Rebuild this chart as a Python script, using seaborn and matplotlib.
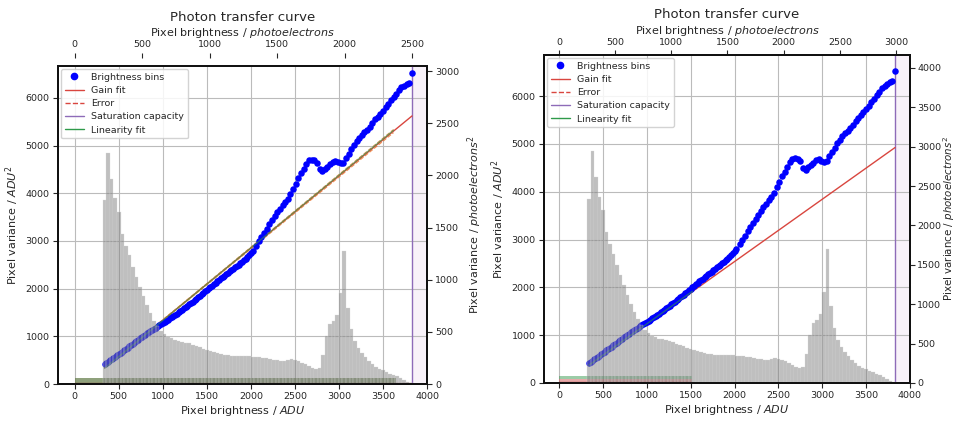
import numpy as np
import pandas as pd
import matplotlib
matplotlib.use("Agg")
import matplotlib.pyplot as plt
import seaborn as sns
from matplotlib.lines import Line2D

# ---------------- data ----------------
bin_adu = [340, 360, 380, 400, 420, 440, 460, 480, 500, 520, 540, 560, 580, 600,
           620, 640, 660, 680, 700, 720, 740, 760, 780, 800, 820, 840, 860, 880,
           900, 920, 940, 960, 980, 1000, 1020, 1040, 1060, 1080, 1100, 1120, 1140,
           1160, 1180, 1200, 1220, 1240, 1260, 1280, 1300, 1320, 1340, 1360, 1380,
           1400, 1420, 1440, 1460, 1480, 1500, 1520, 1540, 1560, 1580, 1600, 1620,
           1640, 1660, 1680, 1700, 1720, 1740, 1760, 1780, 1800, 1820, 1840, 1860,
           1880, 1900, 1920, 1940, 1960, 1980, 2000, 2020,
           2060, 2090, 2120, 2150, 2180, 2210, 2240,
           2270, 2300, 2330, 2360, 2390, 2420, 2450, 2480, 2510, 2540, 2570, 2600,
           2630, 2660, 2690, 2720, 2750, 2780, 2810, 2840, 2870, 2900, 2930, 2960,
           2990, 3020, 3050, 3080, 3110, 3140, 3170, 3200, 3230, 3260, 3290, 3320,
           3350, 3380, 3410, 3440, 3470, 3500, 3530, 3560, 3590, 3620, 3650, 3680,
           3710, 3740, 3770, 3800, 3830]
bin_var = [420, 445, 470, 495, 520, 548, 575, 600, 625, 652, 680, 708, 735, 762,
           790, 818, 845, 872, 900, 928, 955, 980, 1005, 1032, 1060, 1085, 1110, 1135,
           1160, 1185, 1210, 1232, 1255, 1278, 1300, 1325, 1350, 1375, 1400, 1425, 1450,
           1478, 1505, 1532, 1560, 1588, 1615, 1642, 1670, 1700, 1730, 1760, 1790,
           1820, 1850, 1880, 1910, 1942, 1975, 2005, 2035, 2065, 2095, 2125, 2155,
           2185, 2215, 2245, 2275, 2302, 2330, 2360, 2390, 2420, 2450, 2478, 2505,
           2535, 2565, 2598, 2630, 2670, 2710, 2755, 2800,
           2900, 2990, 3080, 3170, 3260, 3350, 3440,
           3520, 3600, 3680, 3750, 3820, 3880, 3980, 4100, 4200, 4320, 4420, 4520,
           4620, 4690, 4700, 4690, 4640, 4500, 4460, 4510, 4560, 4610, 4660, 4680,
           4650, 4630, 4640, 4740, 4830, 4920, 5010, 5090, 5170, 5230, 5280, 5330,
           5390, 5470, 5550, 5610, 5670, 5730, 5800, 5870, 5950, 6020, 6090, 6160,
           6220, 6260, 6290, 6310, 6530]

hist_start = 320
hist_width = 40
hist_heights = [3850, 4850, 4300, 3900, 3610, 3150, 2900, 2700, 2460, 2250, 2040,
                1840, 1650, 1480, 1330, 1210, 1110, 1040, 990, 960, 930, 910, 890,
                870, 850, 820, 800, 770, 740, 715, 690, 670, 650, 630, 615, 605, 595,
                590, 585, 585, 580, 580, 575, 570, 560, 550, 540, 525, 510, 495, 480,
                480, 495, 515, 510, 490, 450, 410, 370, 330, 310, 330, 600, 1000,
                1250, 1320, 1450, 1900, 2800, 1600, 1150, 900, 760, 650, 560, 490,
                420, 360, 320, 290, 250, 220, 190, 160, 120, 80, 50, 20]

# per-panel values: [left, right]
gain_slope = [1.514, 1.304]        # ADU^2 per ADU
gain_offset = [-176, -69]
gain_err = [0.006, 0.006]
lin_slope = [1.522, 1.31]
lin_offset = [-188, -74]
fit_start = 340
gain_end = [3830, 3830]
lin_end = [3620, 1520]
band_end = [3650, 1520]
red_band = [(0, 130), (15, 75)]
green_band = [(0, 130), (75, 150)]
baseline_end = [3830, 1520]
saturation_adu = [3830, 3830]
e_per_adu = [2500 / 3830, 3000 / 3840]
e2_per_adu2 = [0.457, 0.607]
xlims = [(-190, 4000), (-171, 4000)]
ylims = [(0, 6670), (0, 6860)]
axes_rects = [(58, 66, 427, 384), (544, 55, 910, 383)]   # px: left, top, right, bottom
top_offset = [6, 0]
top_max = [2500, 3000]
right_max = [3000, 4000]
right_label_px = [None, 941]
right_label_size = [8, 7.4]
right_tick_pad = [2.5, 1.8]

TITLE = "Photon transfer curve"
XLAB = "Pixel brightness / $ADU$"
XLAB_TOP = "Pixel brightness / $photoelectrons$"
YLAB = "Pixel variance / $ADU^2$"
YLAB_R = "Pixel variance / $photoelectrons^2$"

# ---------------- style ----------------
sns.set_theme(style="ticks")
plt.rcParams['font.family'] = ['DejaVu Sans']
plt.rcParams['mathtext.fontset'] = 'dejavusans'

W, H = 957, 421
fig = plt.figure(figsize=(W / 100, H / 100), dpi=100)

RED = '#d9463f'
PURPLE = '#8e6bb8'
GREEN = '#2e9a4a'

n_bins = len(hist_heights)
centers = hist_start + hist_width * (np.arange(n_bins) + 0.5)
hist_df = pd.DataFrame({"adu": centers, "h": np.asarray(hist_heights, dtype=float)})
pts = pd.DataFrame({"adu": bin_adu, "var": bin_var})

for i in range(2):
    l, t, r, b = axes_rects[i]
    ax = fig.add_axes([l / W, 1 - b / H, (r - l) / W, (b - t) / H])

    # bottom fit-range bands
    ax.fill_between([0, band_end[i]], *red_band[i], color='#c84040', alpha=0.45,
                    linewidth=0, zorder=2)
    ax.fill_between([0, band_end[i]], *green_band[i], color='#3a9a50', alpha=0.5,
                    linewidth=0, zorder=2)
    sns.lineplot(x=[0, baseline_end[i]], y=[0, 0], ax=ax, color='#8b1010',
                 linewidth=1.6, zorder=3, legend=False)

    # saturation
    ax.axvspan(saturation_adu[i], xlims[i][1], color='#ecdcee', alpha=0.35,
               linewidth=0, zorder=0.5)
    ax.axvline(saturation_adu[i], color=PURPLE, linewidth=1.0, zorder=3)

    # gain fit and error
    gx = np.array([fit_start, gain_end[i]], dtype=float)
    sns.lineplot(x=gx, y=gain_slope[i] * gx + gain_offset[i], ax=ax, color=RED,
                 linewidth=1.0, zorder=3, legend=False)
    ex = np.array([fit_start, lin_end[i]], dtype=float)
    for s in (+1, -1):
        sns.lineplot(x=ex, y=gain_slope[i] * (1 + s * gain_err[i]) * ex + gain_offset[i],
                     ax=ax, color='#e8742c', linewidth=0.8, linestyle='--',
                     alpha=0.8, zorder=3, legend=False)

    # brightness bins
    sns.scatterplot(data=pts, x="adu", y="var", ax=ax, color='blue', s=22,
                    linewidth=0, zorder=4, legend=False)

    # linearity fit
    sns.lineplot(x=ex, y=lin_slope[i] * ex + lin_offset[i], ax=ax, color=GREEN,
                 linewidth=1.0, alpha=0.6, zorder=5, legend=False)

    # histogram drawn over everything, semi-transparent
    sns.histplot(data=hist_df, x="adu", weights="h", binwidth=hist_width,
                 binrange=(hist_start, hist_start + hist_width * n_bins), ax=ax,
                 color='gray', alpha=0.5, edgecolor='#d6d6d6', linewidth=0.2,
                 zorder=6)

    ax.set_xlim(*xlims[i])
    ax.set_ylim(*ylims[i])
    ax.set_xticks([0, 500, 1000, 1500, 2000, 2500, 3000, 3500, 4000])
    ax.set_yticks([0, 1000, 2000, 3000, 4000, 5000, 6000])
    ax.grid(True, color='#bbbbbb', linewidth=0.8, zorder=0)
    ax.set_axisbelow(True)
    ax.set_xlabel(XLAB, fontsize=8, labelpad=2)
    ax.set_ylabel(YLAB, fontsize=8, labelpad=3)
    ax.tick_params(labelsize=6.8, length=3.5, width=0.8, direction='out', pad=2.5)

    # top axis: photoelectrons
    axt = ax.twiny()
    axt.set_xlim(xlims[i][0] * e_per_adu[i], xlims[i][1] * e_per_adu[i])
    axt.set_xticks(np.arange(0, top_max[i] + 1, 500))
    axt.tick_params(labelsize=6.8, length=3.5, width=0.8, pad=2.5)
    axt.set_xlabel(XLAB_TOP, fontsize=8, labelpad=3)
    axt.set_title(TITLE, fontsize=9.5, pad=4)

    # right axis: photoelectrons^2
    axr = ax.twinx()
    axr.set_ylim(ylims[i][0] * e2_per_adu2[i], ylims[i][1] * e2_per_adu2[i])
    axr.set_yticks(np.arange(0, right_max[i] + 1, 500))
    axr.tick_params(labelsize=6.8, length=3.5, width=0.8, pad=right_tick_pad[i])
    axr.set_ylabel(YLAB_R, fontsize=right_label_size[i], labelpad=4)
    if right_label_px[i] is not None:
        axr.yaxis.set_label_coords((right_label_px[i] - l) / (r - l), 0.5)

    for a in (ax, axt, axr):
        for name, sp in a.spines.items():
            sp.set_color('#111111')
            sp.set_linewidth(1.3)
    if top_offset[i]:
        axt.spines['top'].set_position(('outward', top_offset[i]))
        axt.spines['top'].set_visible(False)

    handles = [
        Line2D([], [], marker='o', color='blue', linestyle='', markersize=4.5),
        Line2D([], [], color=RED, linewidth=1.0),
        Line2D([], [], color=RED, linewidth=1.0, linestyle='--'),
        Line2D([], [], color=PURPLE, linewidth=1.0),
        Line2D([], [], color=GREEN, linewidth=1.0),
    ]
    labels = ["Brightness bins", "Gain fit", "Error", "Saturation capacity",
              "Linearity fit"]
    leg = axr.legend(handles, labels, loc='upper left', fontsize=6.8, frameon=True,
                     borderaxespad=0.3, handlelength=2.0, labelspacing=0.45,
                     borderpad=0.4, fancybox=True)
    leg.get_frame().set_edgecolor('#cccccc')
    leg.get_frame().set_alpha(0.85)

fig.savefig("out.png", dpi=100)
